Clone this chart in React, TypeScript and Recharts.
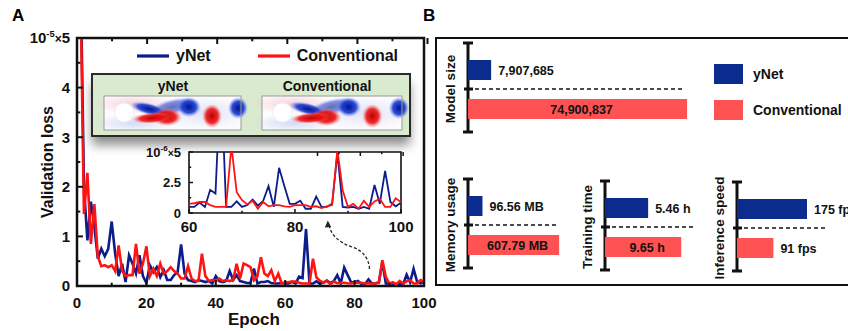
import React from 'react';
import {
  LineChart,
  Line,
  XAxis,
  YAxis,
  ReferenceArea,
  Legend,
  BarChart,
  Bar,
  Cell,
  LabelList,
} from 'recharts';

const FONT = '"Liberation Sans", Arial, Helvetica, sans-serif';
const LINE_BLUE = '#0c1d8a';
const LINE_RED = '#ff1414';
const BAR_BLUE = '#0b2b8f';
const BAR_RED = '#ff5252';
const INK = '#111';

// validation loss, in units of 1e-5, epochs 1..100
const epochs = Array.from({ length: 100 }, (_, i) => i + 1);
const ynetLoss = [
  6.5, 2.0, 0.92, 1.7, 1.2, 0.55, 0.75, 0.6, 0.75, 1.3,
  0.65, 0.2, 0.45, 0.08, 0.62, 0.45, 0.25, 0.62, 0.2, 0.06,
  0.42, 0.28, 0.38, 0.18, 0.32, 0.12, 0.12, 0.22, 0.28, 0.84,
  0.25, 0.12, 0.1, 0.08, 0.12, 0.1, 0.08, 0.1, 0.05, 0.2,
  0.1, 0.08, 0.1, 0.3, 0.12, 0.22, 0.1, 0.08, 0.06, 0.06,
  0.35, 0.05, 0.08, 0.08, 0.1, 0.06, 0.05, 0.05, 0.06, 0.05,
  0.05, 0.085, 0.05, 0.19, 0.16, 1.15, 0.05, 0.05, 0.095, 0.05,
  0.065, 0.11, 0.06, 0.1, 0.22, 0.05, 0.37, 0.22, 0.075, 0.075,
  0.1, 0.035, 0.035, 0.135, 0.05, 0.05, 0.075, 0.49, 0.05, 0.045,
  0.05, 0.035, 0.05, 0.035, 0.23, 0.075, 0.345, 0.09, 0.055, 0.085,
];
const convLoss = [
  6.0, 1.45, 2.28, 0.85, 1.65, 0.6, 0.4, 0.42, 0.38, 0.42,
  0.3, 0.82, 0.3, 0.2, 0.22, 0.22, 0.85, 0.25, 0.45, 0.8,
  0.2, 0.35, 0.2, 0.45, 0.25, 0.3, 0.38, 0.3, 0.25, 0.15,
  0.15, 0.4, 0.15, 0.1, 0.1, 0.65, 0.2, 0.1, 0.12, 0.1,
  0.15, 0.1, 0.12, 0.1, 0.12, 0.45, 0.15, 0.45, 0.42, 0.38,
  0.12, 0.2, 0.58, 0.25, 0.2, 0.32, 0.1, 0.25, 0.05, 0.075,
  0.08, 0.09, 0.09, 0.065, 0.05, 0.05, 0.05, 0.55, 0.17, 0.105,
  0.07, 0.1, 0.035, 0.09, 0.055, 0.065, 0.065, 0.055, 0.05, 0.065,
  0.065, 0.065, 0.05, 0.055, 0.04, 0.055, 0.065, 0.52, 0.185, 0.05,
  0.075, 0.035, 0.1, 0.05, 0.095, 0.115, 0.05, 0.05, 0.12, 0.09,
];

const mainXTicks = [0, 10, 20, 30, 40, 50, 60, 70, 80, 90, 100];
const mainXLabels = [0, 20, 40, 60, 80, 100];
const mainYTicks = [0, 0.5, 1, 1.5, 2, 2.5, 3, 3.5, 4, 4.5, 5];
const mainYLabels = [0, 1, 2, 3, 4, 5];

const insetXTicks = [60, 70, 80, 90, 100];
const insetXLabels = [60, 80, 100];
const insetYTicks = [0, 0.125, 0.25, 0.375, 0.5];
const insetYLabels = [0, 0.25, 0.5];

// panel B
const seriesNames = ['yNet', 'Conventional'];
const lineColors = [LINE_BLUE, LINE_RED];
const metricNames = ['Model size', 'Memory usage', 'Training time', 'Inference speed'];
const ynetValues = [7907685, 96.56, 5.46, 175];
const convValues = [74900837, 607.79, 9.65, 91];
const ynetText = ['7,907,685', '96.56 MB', '5.46 h', '175 fps'];
const convText = ['74,900,837', '607.79 MB', '9.65 h', '91 fps'];

const metricBoxes = [
  { axisX: 468, plotTop: 50, plotW: 234, max: 80000000, dash: 215 },
  { axisX: 468, plotTop: 186, plotW: 105, max: 700, dash: 90 },
  { axisX: 605, plotTop: 188, plotW: 79, max: 10, dash: 91 },
  { axisX: 737, plotTop: 189, plotW: 80, max: 200, dash: 90 },
];

const rows = epochs.map((e, i) => ({ epoch: e, ynet: ynetLoss[i], conv: convLoss[i] }));

const same = (a: number, b: number) => Math.abs(a - b) < 1e-9;

function Sci({ exp, mant }: { exp: string; mant: string }) {
  return (
    <>
      <tspan>10</tspan>
      <tspan dy={-6} fontSize="0.62em">{exp}</tspan>
      <tspan dy={6} fontSize="0.8em">×</tspan>
      <tspan>{mant}</tspan>
    </>
  );
}

function makeTick(side: string, majors: number[], opts: any) {
  return (p: any) => {
    const v = p.payload.value;
    const major = majors.some((m) => same(m, v));
    const len = major ? opts.len : opts.len * 0.55;
    const { x, y } = p;
    let x2 = x;
    let y2 = y;
    if (side === 'bottom') y2 = y - len;
    else if (side === 'top') y2 = y + len;
    else if (side === 'left') x2 = x + len;
    else x2 = x - len;
    const lab = major && opts.label ? opts.label(v) : null;
    return (
      <g>
        <line x1={x} y1={y} x2={x2} y2={y2} stroke={INK} strokeWidth={opts.w} />
        {lab != null && side === 'bottom' && (
          <text x={x} y={y + opts.gap} textAnchor="middle" fontFamily={FONT} fontWeight="bold" fontSize={opts.fs} fill={INK}>
            {lab}
          </text>
        )}
        {lab != null && side === 'left' && (
          <text x={x - opts.gap} y={y + opts.fs * 0.36} textAnchor="end" fontFamily={FONT} fontWeight="bold" fontSize={opts.fs} fill={INK}>
            {lab}
          </text>
        )}
      </g>
    );
  };
}

const mainLeftLabel = (v: number) => (same(v, 5) ? <Sci exp="-5" mant="5" /> : String(v));
const insetLeftLabel = (v: number) => (same(v, 0.5) ? <Sci exp="-6" mant="5" /> : same(v, 0.25) ? '2.5' : '0');

function LegendRow({ payload }: any) {
  const items = [...(payload || [])].sort(
    (a: any, b: any) => seriesNames.indexOf(a.value) - seriesNames.indexOf(b.value),
  );
  return (
    <div style={{ display: 'flex', alignItems: 'center', fontFamily: FONT, fontWeight: 'bold', fontSize: 16, color: INK }}>
      {items.map((it: any, k: number) => (
        <div key={it.value} style={{ display: 'flex', alignItems: 'center', marginRight: k === 0 ? 47 : 0 }}>
          <svg width={32} height={6} style={{ marginRight: 7 }}>
            <line x1={0} y1={3} x2={32} y2={3} stroke={lineColors[seriesNames.indexOf(it.value)]} strokeWidth={3.2} />
          </svg>
          <span>{it.value}</span>
        </div>
      ))}
    </div>
  );
}

function MainChart() {
  return (
    <div style={{ position: 'absolute', left: 0, top: 0 }}>
      <LineChart width={440} height={331} data={rows} margin={{ top: 28, right: 6, bottom: 15, left: 17 }}>
        <XAxis dataKey="epoch" type="number" domain={[0, 100]} ticks={mainXTicks} interval={0} height={30}
          axisLine={false} tickLine={false} tickSize={0} tickMargin={0} allowDataOverflow
          tick={makeTick('bottom', mainXLabels, { len: 6, w: 2, gap: 22, fs: 15, label: String })} />
        <XAxis xAxisId="top" orientation="top" type="number" domain={[0, 100]} ticks={mainXTicks} interval={0}
          height={10} axisLine={false} tickLine={false} tickSize={0} tickMargin={0}
          tick={makeTick('top', mainXLabels, { len: 6, w: 2 })} />
        <YAxis type="number" domain={[0, 5]} ticks={mainYTicks} interval={0} width={60} allowDataOverflow
          axisLine={false} tickLine={false} tickSize={0} tickMargin={0}
          tick={makeTick('left', mainYLabels, { len: 6, w: 2, gap: 7, fs: 15, label: mainLeftLabel })} />
        <YAxis yAxisId="right" orientation="right" type="number" domain={[0, 5]} ticks={mainYTicks} interval={0}
          width={10} axisLine={false} tickLine={false} tickSize={0} tickMargin={0}
          tick={makeTick('right', mainYLabels, { len: 6, w: 2 })} />
        <Line type="linear" dataKey="ynet" name={seriesNames[0]} stroke={LINE_BLUE} strokeWidth={2.6} dot={false} isAnimationActive={false} />
        <Line type="linear" dataKey="conv" name={seriesNames[1]} stroke={LINE_RED} strokeWidth={2.6} dot={false} isAnimationActive={false} />
        <ReferenceArea x1={0} x2={100} y1={0} y2={5} fill="none" stroke={INK} strokeWidth={2.5} />
        <Legend layout="horizontal" verticalAlign="middle" align="center" content={LegendRow}
          wrapperStyle={{ top: 47, left: 137, width: 300, height: 20 }} />
        <text transform="translate(47,162) rotate(-90)" textAnchor="middle" dominantBaseline="central"
          fontFamily={FONT} fontWeight="bold" fontSize={16} fill={INK}>Validation loss</text>
        <text x={254} y={325} textAnchor="middle" fontFamily={FONT} fontWeight="bold" fontSize={17} fill={INK}>Epoch</text>
      </LineChart>
    </div>
  );
}

function InsetChart() {
  return (
    <div style={{ position: 'absolute', left: 140, top: 140 }}>
      <LineChart width={290} height={100} data={rows} margin={{ top: 7, right: 24, bottom: 7, left: 9 }}>
        <XAxis dataKey="epoch" type="number" domain={[60, 100]} ticks={insetXTicks} interval={0} height={20}
          axisLine={false} tickLine={false} tickSize={0} tickMargin={0} allowDataOverflow
          tick={makeTick('bottom', insetXLabels, { len: 4, w: 1.5, gap: 19, fs: 15, label: String })} />
        <XAxis xAxisId="top" orientation="top" type="number" domain={[60, 100]} ticks={insetXTicks} interval={0}
          height={5} axisLine={false} tickLine={false} tickSize={0} tickMargin={0}
          tick={makeTick('top', insetXLabels, { len: 4, w: 1.5 })} />
        <YAxis type="number" domain={[0, 0.5]} ticks={insetYTicks} interval={0} width={40} allowDataOverflow
          axisLine={false} tickLine={false} tickSize={0} tickMargin={0}
          tick={makeTick('left', insetYLabels, { len: 4, w: 1.5, gap: 8, fs: 13, label: insetLeftLabel })} />
        <YAxis yAxisId="right" orientation="right" type="number" domain={[0, 0.5]} ticks={insetYTicks} interval={0}
          width={5} axisLine={false} tickLine={false} tickSize={0} tickMargin={0}
          tick={makeTick('right', insetYLabels, { len: 4, w: 1.5 })} />
        <ReferenceArea x1={60} x2={100} y1={0} y2={0.5} fill="#fff" fillOpacity={1} stroke="none" />
        <Line type="linear" dataKey="ynet" stroke={LINE_BLUE} strokeWidth={1.8} dot={false} isAnimationActive={false} />
        <Line type="linear" dataKey="conv" stroke={LINE_RED} strokeWidth={1.8} dot={false} isAnimationActive={false} />
        <ReferenceArea x1={60} x2={100} y1={0} y2={0.5} fill="none" stroke={INK} strokeWidth={1.6} />
      </LineChart>
    </div>
  );
}

function Vortex({ x, y, w, h }: { x: number; y: number; w: number; h: number }) {
  const sx = w / 137;
  return (
    <g transform={`translate(${x},${y}) scale(${sx},1)`}>
      <rect x={0} y={0} width={137} height={h} fill="#fdfbfd" />
      <ellipse cx={30} cy={8} rx={42} ry={10} fill="url(#paleRed)" />
      <ellipse cx={30} cy={27} rx={42} ry={9} fill="url(#paleBlue)" />
      <ellipse cx={100} cy={17} rx={48} ry={17} fill="url(#paleBlue)" opacity={0.7} />
      <ellipse cx={68} cy={11} rx={24} ry={8} fill="url(#gBlue)" opacity={0.6} transform="rotate(-14 68 11)" />
      <ellipse cx={45} cy={13} rx={19} ry={6} fill="url(#gBlue)" transform="rotate(14 45 13)" />
      <ellipse cx={63} cy={21} rx={15} ry={9} fill="url(#gRed)" />
      <ellipse cx={48} cy={22} rx={20} ry={5.5} fill="url(#gRed)" transform="rotate(-4 48 22)" />
      <ellipse cx={85} cy={11} rx={12} ry={10} fill="url(#gBlue)" />
      <ellipse cx={108} cy={20} rx={10} ry={12} fill="url(#gRed)" />
      <ellipse cx={134} cy={12} rx={10} ry={11} fill="url(#gBlue)" />
      <circle cx={20} cy={16.5} r={9.5} fill="#fff" stroke="#eee" strokeWidth={0.8} />
      <rect x={0} y={0} width={137} height={h} fill="none" stroke="#9a9a9a" strokeWidth={1} />
    </g>
  );
}

function FlowBox() {
  return (
    <div style={{
      position: 'absolute', left: 91, top: 73, width: 320, height: 64, boxSizing: 'border-box',
      background: '#d9eacf', border: '2px solid #2a2a2a', boxShadow: '0 9px 10px -1px rgba(0,0,0,0.45)',
    }}>
      <svg width={316} height={60} style={{ position: 'absolute', left: 0, top: 0 }}>
        <defs>
          <radialGradient id="gBlue">
            <stop offset="0" stopColor="#001590" stopOpacity={1} />
            <stop offset="0.6" stopColor="#1a3bd0" stopOpacity={0.9} />
            <stop offset="1" stopColor="#6f86ff" stopOpacity={0} />
          </radialGradient>
          <radialGradient id="gRed">
            <stop offset="0" stopColor="#c00000" stopOpacity={1} />
            <stop offset="0.6" stopColor="#ec1616" stopOpacity={0.9} />
            <stop offset="1" stopColor="#ff7a7a" stopOpacity={0} />
          </radialGradient>
          <radialGradient id="paleRed">
            <stop offset="0" stopColor="#f3c6cf" stopOpacity={0.8} />
            <stop offset="1" stopColor="#f3c6cf" stopOpacity={0} />
          </radialGradient>
          <radialGradient id="paleBlue">
            <stop offset="0" stopColor="#c9d3f5" stopOpacity={0.8} />
            <stop offset="1" stopColor="#c9d3f5" stopOpacity={0} />
          </radialGradient>
        </defs>
        <text x={80} y={16} textAnchor="middle" fontFamily={FONT} fontWeight="bold" fontSize={14} fill={INK}>{seriesNames[0]}</text>
        <text x={234} y={16} textAnchor="middle" fontFamily={FONT} fontWeight="bold" fontSize={14} fill={INK}>{seriesNames[1]}</text>
        <Vortex x={11} y={21} w={137} h={34} />
        <Vortex x={169} y={21} w={140} h={34} />
      </svg>
    </div>
  );
}

function ZoomArrow() {
  return (
    <svg width={848} height={331} style={{ position: 'absolute', left: 0, top: 0, pointerEvents: 'none' }}>
      <path d="M 369.5 269 C 369 258, 362 250, 352 247 C 340 243, 332 236, 329.5 227" fill="none"
        stroke="#222" strokeWidth={1.3} strokeDasharray="3 2" />
      <polygon points="327.8,220.5 324.8,227.5 331.2,227" fill="#222" />
    </svg>
  );
}

function barLabel(p: any) {
  const { x, y, width, height, value, index } = p;
  const inside = index === 1 && width > 70;
  return (
    <text x={inside ? x + width / 2 + 4 : x + width + 7} y={y + height / 2 + 4.5} textAnchor={inside ? 'middle' : 'start'}
      fontFamily={FONT} fontWeight="bold" fontSize={12.5} fill={INK}>
      {value}
    </text>
  );
}

function MetricChart({ i }: { i: number }) {
  const b = metricBoxes[i];
  const ML = 30;
  const MT = 22;
  const PH = 78;
  const MR = 95;
  const data = seriesNames.map((n, k) => ({
    name: n,
    value: k === 0 ? ynetValues[i] : convValues[i],
    text: k === 0 ? ynetText[i] : convText[i],
  }));
  const mid = MT + PH / 2;
  return (
    <div style={{ position: 'absolute', left: b.axisX - ML, top: b.plotTop - MT }}>
      <BarChart layout="vertical" width={ML + b.plotW + MR} height={MT + PH + MT} data={data}
        margin={{ top: MT, bottom: MT, left: ML, right: MR }} barSize={20}>
        <XAxis type="number" domain={[0, b.max]} hide allowDataOverflow />
        <YAxis type="category" dataKey="name" hide />
        <Bar dataKey="value" isAnimationActive={false}>
          {data.map((d, k) => (
            <Cell key={d.name} fill={k === 0 ? BAR_BLUE : BAR_RED} />
          ))}
          <LabelList dataKey="text" content={barLabel} />
        </Bar>
        <g>
          <line x1={ML} y1={MT - 7} x2={ML} y2={MT + PH + 4} stroke={INK} strokeWidth={3} />
          <line x1={ML - 5} y1={MT - 7} x2={ML + 5} y2={MT - 7} stroke={INK} strokeWidth={3} />
          <line x1={ML - 5} y1={MT + PH + 4} x2={ML + 5} y2={MT + PH + 4} stroke={INK} strokeWidth={3} />
          <line x1={ML - 4} y1={mid} x2={ML + 5} y2={mid} stroke={INK} strokeWidth={3} />
          <line x1={ML} y1={mid} x2={ML + b.dash} y2={mid} stroke={INK} strokeWidth={1.4} strokeDasharray="4 3" />
          <text transform={`translate(${ML - 18},${mid}) rotate(-90)`} textAnchor="middle" dominantBaseline="central"
            fontFamily={FONT} fontWeight="bold" fontSize={13.5} fill={INK}>{metricNames[i]}</text>
        </g>
      </BarChart>
    </div>
  );
}

function PanelB() {
  return (
    <>
      <div style={{ position: 'absolute', left: 435, top: 37, width: 440, height: 249, boxSizing: 'border-box', border: '2.5px solid #111' }} />
      {metricNames.map((m, i) => (
        <MetricChart key={m} i={i} />
      ))}
      <div style={{ position: 'absolute', left: 714, top: 64, fontFamily: FONT, fontWeight: 'bold', fontSize: 14, color: INK }}>
        {seriesNames.map((n, k) => (
          <div key={n} style={{ display: 'flex', alignItems: 'center', height: 20, marginBottom: 16 }}>
            <div style={{ width: 29, height: 20, background: k === 0 ? BAR_BLUE : BAR_RED, marginRight: 10 }} />
            <span>{n}</span>
          </div>
        ))}
      </div>
    </>
  );
}

export default function App() {
  return (
    <div style={{ position: 'absolute', left: 0, top: 0, width: 848, height: 331, overflow: 'hidden', background: '#fff', fontFamily: FONT }}>
      <MainChart />
      <FlowBox />
      <InsetChart />
      <ZoomArrow />
      <PanelB />
      <div style={{ position: 'absolute', left: 12, top: 6, fontFamily: FONT, fontWeight: 'bold', fontSize: 17 }}>A</div>
      <div style={{ position: 'absolute', left: 423, top: 6, fontFamily: FONT, fontWeight: 'bold', fontSize: 17 }}>B</div>
    </div>
  );
}
